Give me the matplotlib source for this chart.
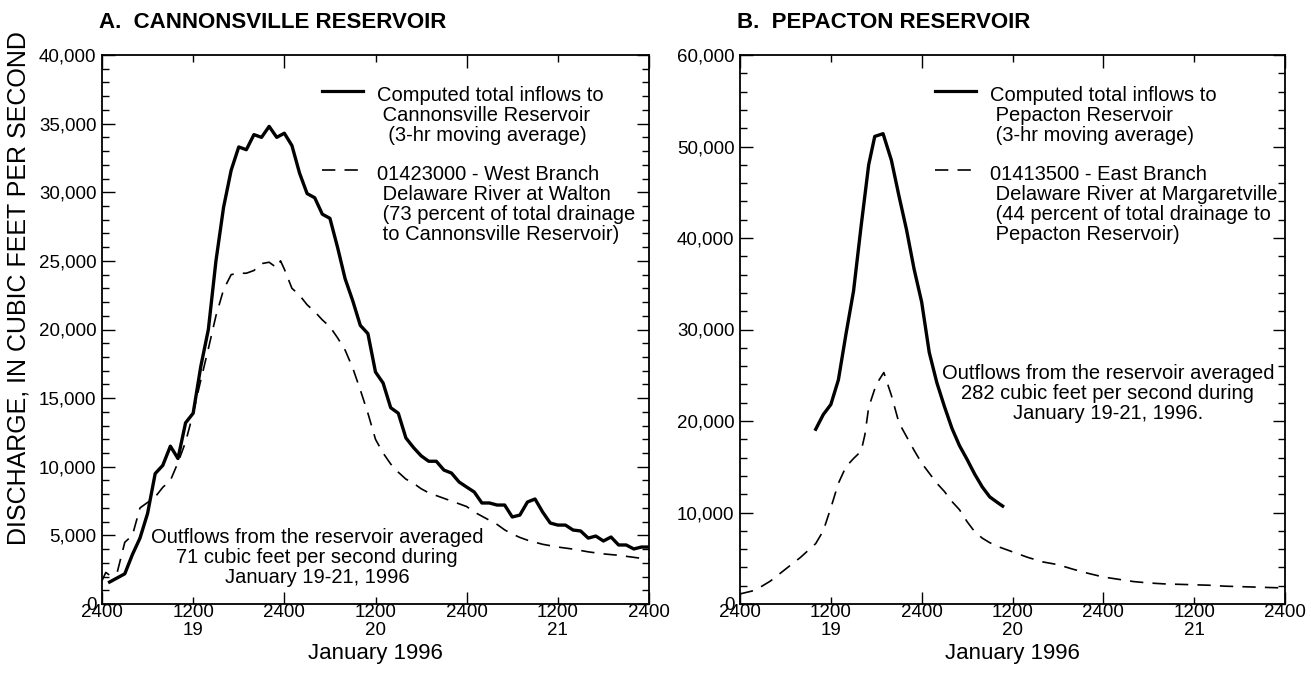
import numpy as np
import matplotlib.pyplot as plt
from matplotlib.ticker import MultipleLocator, FixedLocator, FuncFormatter

plt.rcParams['font.family'] = ['Liberation Sans', 'DejaVu Sans']

# hours after 2400 on January 18, 1996
hrs_cann = [1, 3, 4, 5, 6, 7, 8, 9, 10, 11, 12, 13, 14, 15, 16, 17, 18, 19, 20,
            21, 22, 23, 24, 25, 26, 27, 28, 29, 30, 31, 32, 33, 34, 35, 36, 37, 38,
            39, 40, 41, 42, 43, 44, 45, 46, 47, 48, 49, 50, 51, 52, 53, 54, 55, 56,
            57, 58, 59, 60, 61, 62, 63, 64, 65, 66, 67, 68, 69, 70, 71, 72]
q_cann = [1600, 2200, 3600, 4800, 6600, 9500, 10100, 11500, 10600, 13200, 13900,
          17300, 20000, 25000, 28900, 31600, 33300, 33100, 34200, 34000, 34800,
          34000, 34300, 33400, 31400, 29900, 29600, 28400, 28100, 26000, 23700,
          22100, 20300, 19700, 16900, 16100, 14300, 13900, 12100, 11400, 10800,
          10400, 10400, 9760, 9540, 8890, 8520, 8160, 7360, 7360, 7210, 7210, 6340,
          6480, 7430, 7650, 6700, 5900, 5750, 5750, 5390, 5320, 4800, 4950, 4590,
          4880, 4300, 4300, 4010, 4150, 4150]

hrs_walton = [0, 0.5, 1, 2, 3, 4, 5, 6, 7, 8, 9, 10, 11, 12, 13, 14, 15, 16, 17, 18,
              19, 20, 21, 22, 23, 23.5, 24, 25, 26, 27, 28, 29, 30, 31, 32, 33, 34,
              35, 36, 37, 38, 39, 40, 41, 42, 43, 44, 45, 46, 47, 48, 49, 50, 51, 52,
              53, 54, 55, 56, 58, 60, 62, 64, 66, 68, 70, 72]
q_walton = [1700, 2300, 2100, 2300, 4500, 5000, 7000, 7400, 7800, 8500, 9000,
            10300, 11800, 13900, 16300, 18600, 21000, 22900, 24000, 24100, 24100,
            24300, 24800, 24900, 24500, 25000, 24400, 23000, 22500, 21800, 21300,
            20700, 20200, 19400, 18500, 17200, 15600, 13900, 12000, 11000, 10200,
            9600, 9100, 8800, 8400, 8100, 7900, 7700, 7500, 7300, 7100, 6700, 6400,
            6100, 5800, 5400, 5100, 4850, 4650, 4350, 4150, 4000, 3800, 3650, 3550,
            3400, 3250]

hrs_pep = [10, 11, 12, 13, 14, 15, 16, 17, 17.8, 18.9, 20, 21, 22, 23, 24, 25, 26,
           27, 28, 29, 30, 31, 32, 33, 34, 34.7]
q_pep = [19100, 20700, 21800, 24500, 29500, 34200, 41300, 48000, 51100, 51400,
         48500, 44600, 40900, 36600, 33000, 27500, 24200, 21600, 19200, 17300,
         15800, 14200, 12800, 11700, 11100, 10700]

hrs_marg = [0, 2, 4, 6, 8, 10, 11, 12, 13, 14, 15, 16, 16.5, 17, 18, 19, 20, 21, 22,
            23, 24, 25, 26, 27, 28, 29, 30, 31, 32, 33, 34, 36, 38, 40, 42, 44, 46,
            48, 50, 52, 54, 56, 58, 60, 62, 64, 66, 68, 70, 72]
q_marg = [1100, 1500, 2500, 3800, 5100, 6600, 8000, 10500, 13200, 15000, 15900,
          16700, 18500, 21500, 24000, 25300, 22800, 19800, 18300, 16800, 15400,
          14300, 13200, 12300, 11200, 10300, 9000, 7900, 7200, 6700, 6300, 5700,
          5100, 4600, 4300, 3800, 3350, 2950, 2700, 2450, 2300, 2200, 2150, 2100,
          2050, 1950, 1900, 1850, 1800, 1750]

major_hours = [0, 24, 48, 72]
minor_hours = [12, 36, 60]
minor_labels = ['1200\n19', '1200\n20', '1200\n21']

fig = plt.figure(figsize=(13.11, 6.74), dpi=100)
axA = fig.add_axes([102 / 1311, 1 - 604 / 674, 547 / 1311, 549 / 674])
axB = fig.add_axes([740 / 1311, 1 - 604 / 674, 545 / 1311, 549 / 674])

FS = 14.5      # notes and legend
TFS = 13.5     # tick labels
DASH = (0, (8, 5.5))


def style(ax, ymax, ymajor, yminor):
    ax.set_xlim(0, 72)
    ax.set_ylim(0, ymax)
    ax.xaxis.set_major_locator(FixedLocator(major_hours))
    ax.xaxis.set_minor_locator(FixedLocator(minor_hours))
    ax.set_xticklabels(['2400'] * 4)
    ax.set_xticklabels(minor_labels, minor=True)
    ax.yaxis.set_major_locator(MultipleLocator(ymajor))
    ax.yaxis.set_minor_locator(MultipleLocator(yminor))
    ax.yaxis.set_major_formatter(FuncFormatter(lambda v, p: f'{int(v):,}'))
    ax.tick_params(which='both', direction='in', top=True, right=True,
                   labelsize=TFS, width=1.0)
    ax.tick_params(axis='x', which='both', pad=0)
    ax.tick_params(axis='y', which='both', pad=4)
    ax.tick_params(which='major', length=9)
    ax.tick_params(which='minor', length=5)
    for lab in ax.get_xticklabels(minor=True):
        lab.set_linespacing(1.1)
    for s in ax.spines.values():
        s.set_linewidth(1.3)
    ax.set_xlabel('January 1996', fontsize=16, labelpad=3)


def key(ax, x0, y0, dashed, lines):
    ls = DASH if dashed else '-'
    lw = 1.2 if dashed else 2.3
    ax.plot([x0, x0 + 0.075], [y0, y0], transform=ax.transAxes, color='black',
            lw=lw, linestyle=ls, clip_on=False)
    ax.text(x0 + 0.1, y0 + 0.009, lines, transform=ax.transAxes, fontsize=FS,
            va='top', ha='left', linespacing=1.05)


# Panel A
style(axA, 40000, 5000, 1000)
axA.plot(hrs_cann, q_cann, color='black', lw=2.4)
axA.plot(hrs_walton, q_walton, color='black', lw=1.2, linestyle=DASH)
axA.set_ylabel('DISCHARGE, IN CUBIC FEET PER SECOND', fontsize=18)
axA.yaxis.set_label_coords(-0.13, 0.575)
axA.text(-0.005, 1.06, 'A.  CANNONSVILLE RESERVOIR', transform=axA.transAxes,
         fontsize=16, fontweight='bold', va='center', ha='left')
key(axA, 0.403, 0.934, False,
    'Computed total inflows to\n Cannonsville Reservoir\n  (3-hr moving average)')
key(axA, 0.403, 0.790, True,
    '01423000 - West Branch\n Delaware River at Walton\n (73 percent of total drainage\n to Cannonsville Reservoir)')
axA.text(0.393, 0.085,
         'Outflows from the reservoir averaged\n71 cubic feet per second during\nJanuary 19-21, 1996',
         transform=axA.transAxes, fontsize=FS, ha='center', va='center', linespacing=1.07)

# Panel B
style(axB, 60000, 10000, 2000)
axB.plot(hrs_pep, q_pep, color='black', lw=2.4)
axB.plot(hrs_marg, q_marg, color='black', lw=1.2, linestyle=DASH)
axB.text(-0.005, 1.06, 'B.  PEPACTON RESERVOIR', transform=axB.transAxes,
         fontsize=16, fontweight='bold', va='center', ha='left')
key(axB, 0.358, 0.934, False,
    'Computed total inflows to\n Pepacton Reservoir\n (3-hr moving average)')
key(axB, 0.358, 0.790, True,
    '01413500 - East Branch\n Delaware River at Margaretville\n (44 percent of total drainage to\n Pepacton Reservoir)')
axB.text(0.675, 0.384,
         'Outflows from the reservoir averaged\n282 cubic feet per second during\nJanuary 19-21, 1996.',
         transform=axB.transAxes, fontsize=FS, ha='center', va='center', linespacing=1.07)

fig.savefig('out.png', dpi=100)
